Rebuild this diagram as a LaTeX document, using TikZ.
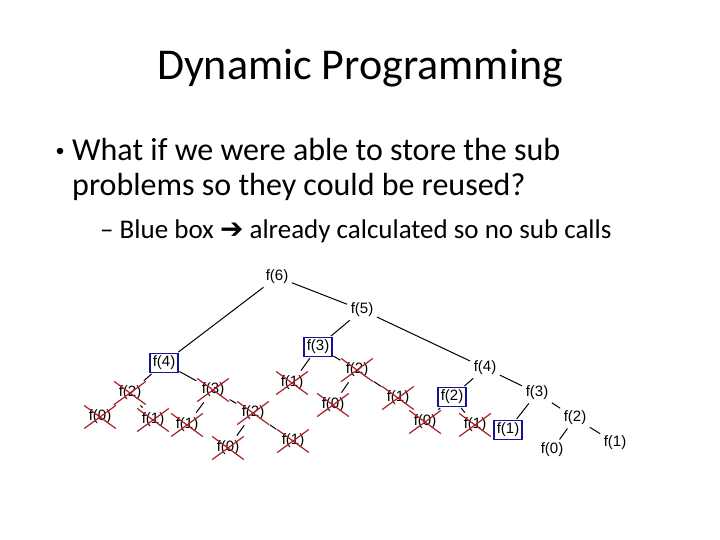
\documentclass[tikz,border=0pt]{standalone}
\usepackage{fontspec}
\setmainfont{Carlito}
\newfontfamily\treefont{Liberation Sans}
\newfontfamily\symfont{DejaVu Sans}
\usetikzlibrary{shapes.misc}
\definecolor{boxblue}{RGB}{20,20,150}
\definecolor{xred}{RGB}{170,30,40}
\begin{document}
\begin{tikzpicture}[
    x=1pt,
    y=-1pt,
    call/.style={font=\treefont\fontsize{15}{15}\selectfont, inner xsep=2.5pt, inner ysep=2.5pt},
    memo/.style={call, draw=boxblue, line width=1.6pt},
    crossed/.style={call, cross out, draw=xred, line width=1.2pt, inner xsep=4pt, inner ysep=4pt},
    edge/.style={line width=1pt, shorten <=1pt, shorten >=1pt}
]
    \useasboundingbox (0,0) rectangle (720,540);

    % 标题与正文
    \node[anchor=base, font=\fontsize{44}{52}\selectfont] (title) at (360,80) {Dynamic Programming};
    \node[anchor=base west, font=\fontsize{32}{38}\selectfont, inner sep=0pt] (line1) at (72,161) {What if we were able to store the sub};
    \node[anchor=base west, font=\fontsize{32}{38}\selectfont, inner sep=0pt] (line2) at (72,196) {problems so they could be reused?};
    \node[anchor=base west, font=\fontsize{27}{32}\selectfont, inner sep=0pt] (line3) at (100,239) {– Blue box {\symfont\fontsize{28}{32}\selectfont ➔} already calculated so no sub calls};
    \fill (60,151) circle (3.3) coordinate (dot);

    % 递归树
    \node[call]    (f6)  at (277,277) {f(6)};
    \node[call]    (f5)  at (362,310) {f(5)};
    \node[memo]    (f4a) at (164,363) {f(4)};
    \node[crossed] (f2a) at (130,393) {f(2)};
    \node[crossed] (f3a) at (213,390) {f(3)};
    \node[crossed] (f0a) at (100,417) {f(0)};
    \node[crossed] (f1a) at (153,420) {f(1)};
    \node[crossed] (f1b) at (187,425) {f(1)};
    \node[crossed] (f2b) at (253,413) {f(2)};
    \node[crossed] (f0b) at (228,448) {f(0)};
    \node[crossed] (f1c) at (293,441) {f(1)};
    \node[memo]    (f3b) at (318,347) {f(3)};
    \node[crossed] (f1d) at (292,383) {f(1)};
    \node[crossed] (f2c) at (357,370) {f(2)};
    \node[crossed] (f0c) at (333,405) {f(0)};
    \node[crossed] (f1e) at (398,398) {f(1)};
    \node[call]    (f4b) at (485,368) {f(4)};
    \node[memo]    (f2d) at (452,397) {f(2)};
    \node[call]    (f3c) at (537,393) {f(3)};
    \node[crossed] (f0d) at (425,422) {f(0)};
    \node[crossed] (f1f) at (475,425) {f(1)};
    \node[memo]    (f1g) at (508,430) {f(1)};
    \node[call]    (f2e) at (575,418) {f(2)};
    \node[call]    (f0e) at (552,450) {f(0)};
    \node[call]    (f1h) at (615,443) {f(1)};

    % 连线
    \draw[edge] (f6) -- (f4a);
    \draw[edge] (f6) -- (f5);
    \draw[edge] (f4a) -- (f2a);
    \draw[edge] (f4a) -- (f3a);
    \draw[edge] (f2a) -- (f0a);
    \draw[edge] (f2a) -- (f1a);
    \draw[edge] (f3a) -- (f1b);
    \draw[edge] (f3a) -- (f2b);
    \draw[edge] (f2b) -- (f0b);
    \draw[edge] (f2b) -- (f1c);
    \draw[edge] (f5) -- (f3b);
    \draw[edge] (f5) -- (f4b);
    \draw[edge] (f3b) -- (f1d);
    \draw[edge] (f3b) -- (f2c);
    \draw[edge] (f2c) -- (f0c);
    \draw[edge] (f2c) -- (f1e);
    \draw[edge] (f4b) -- (f2d);
    \draw[edge] (f4b) -- (f3c);
    \draw[edge] (f2d) -- (f0d);
    \draw[edge] (f2d) -- (f1f);
    \draw[edge] (f3c) -- (f1g);
    \draw[edge] (f3c) -- (f2e);
    \draw[edge] (f2e) -- (f0e);
    \draw[edge] (f2e) -- (f1h);
\end{tikzpicture}
\end{document}
